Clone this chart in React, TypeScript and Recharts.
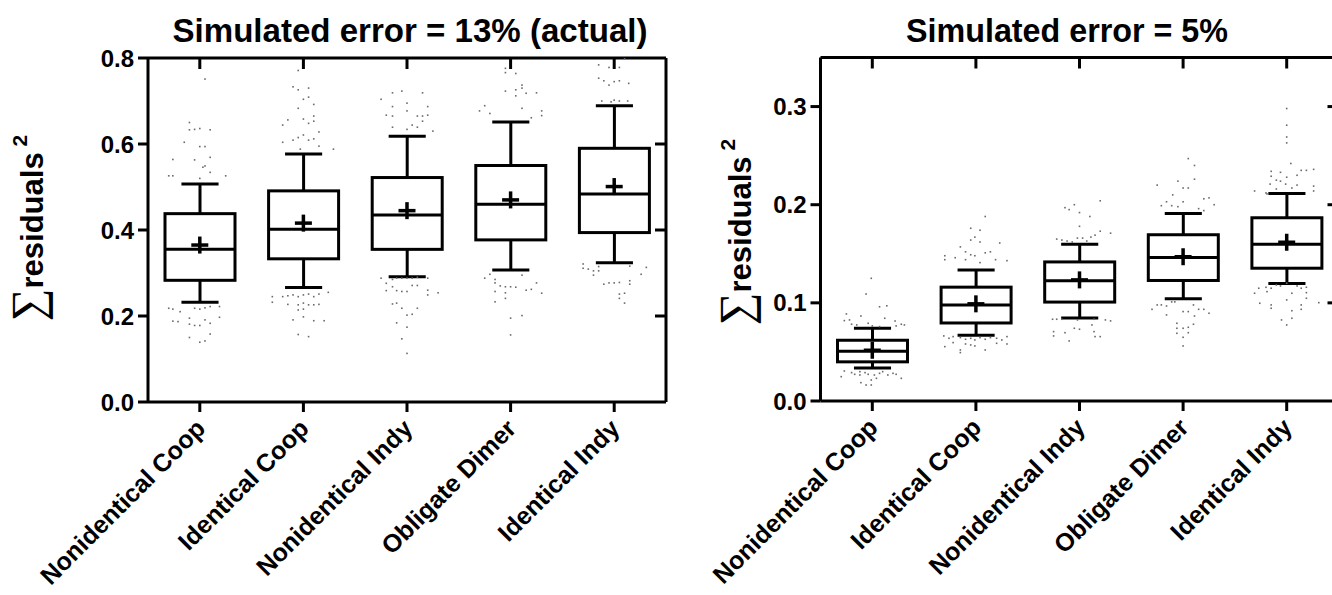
import React from "react";
import {
  ComposedChart,
  Bar,
  Scatter,
  XAxis,
  YAxis,
} from "recharts";

const FONT = '"Liberation Sans", Arial, Helvetica, sans-serif';

const categories = [
  "Nonidentical Coop",
  "Identical Coop",
  "Nonidentical Indy",
  "Obligate Dimer",
  "Identical Indy",
];

// ---------- Panel A: Simulated error = 13% (actual) ----------
const titleA = "Simulated error = 13%  (actual)";
const ticksA = [0, 0.2, 0.4, 0.6, 0.8];
const innerTicksA = [0.2, 0.4, 0.6];
const lowA = [0.232, 0.266, 0.291, 0.307, 0.324];
const q1A = [0.283, 0.333, 0.355, 0.377, 0.394];
const medA = [0.355, 0.402, 0.435, 0.46, 0.484];
const q3A = [0.438, 0.491, 0.522, 0.55, 0.59];
const highA = [0.507, 0.577, 0.618, 0.651, 0.689];
const meanA = [0.365, 0.416, 0.445, 0.47, 0.501];

// outlier dots: [horizontal jitter in category units, value]
const dotsA0: [number, number][] = [
  [0.05, 0.751], [-0.1, 0.65], [-0.1, 0.633], [-0.05, 0.634], [0, 0.636], [0.1, 0.633], [-0.15, 0.604], [0, 0.594],
  [0.05, 0.594], [0.1, 0.569], [-0.26, 0.564], [-0.05, 0.563], [0.05, 0.549], [0.03, 0.546], [0.1, 0.534], [-0.3, 0.526],
  [-0.26, 0.526], [0, 0.52], [0.25, 0.526],
  [-0.3, 0.218], [-0.26, 0.216], [-0.05, 0.218], [0, 0.216], [0.05, 0.219], [0.1, 0.222], [0.19, 0.222], [-0.19, 0.21],
  [-0.26, 0.188], [-0.21, 0.187], [-0.1, 0.195], [-0.1, 0.181], [-0.05, 0.178], [0, 0.178], [0.05, 0.191], [0.1, 0.183],
  [0.19, 0.197], [0.1, 0.158], [-0.1, 0.15], [0, 0.139], [0.05, 0.142],
];
const dotsA1: [number, number][] = [
  [-0.05, 0.771], [-0.1, 0.733], [-0.05, 0.726], [0.05, 0.73], [0, 0.704], [0.05, 0.709], [0.1, 0.692], [-0.05, 0.683],
  [0, 0.658], [0.1, 0.665], [-0.15, 0.656], [-0.2, 0.644], [0.05, 0.648], [0.1, 0.653], [0.15, 0.628], [0, 0.621],
  [-0.05, 0.615], [0.05, 0.609], [0.1, 0.612], [-0.2, 0.604], [-0.1, 0.609], [0.15, 0.595], [0.29, 0.588], [-0.03, 0.588],
  [-0.3, 0.245], [-0.2, 0.245], [-0.15, 0.247], [-0.1, 0.249], [-0.05, 0.245], [0, 0.249], [0.05, 0.251], [0.1, 0.245],
  [0.15, 0.251], [0.24, 0.255], [-0.3, 0.232], [-0.15, 0.227], [-0.05, 0.226], [0, 0.23], [0.05, 0.226], [0.1, 0.226],
  [0.15, 0.227], [-0.05, 0.214], [0, 0.216], [-0.1, 0.191], [0, 0.198], [0.1, 0.189], [0.2, 0.189], [-0.05, 0.157],
  [0.05, 0.152],
];
const dotsA2: [number, number][] = [
  [-0.14, 0.719], [-0.05, 0.723], [0.15, 0.719], [0, 0.695], [-0.14, 0.687], [-0.2, 0.667], [-0.14, 0.665], [0, 0.677],
  [0.1, 0.665], [0.15, 0.665], [0.2, 0.667], [0.2, 0.687], [0.15, 0.653], [-0.14, 0.639], [0, 0.634], [0.05, 0.644],
  [0.1, 0.639], [0.25, 0.63], [-0.25, 0.704],
  [-0.25, 0.288], [-0.14, 0.285], [-0.1, 0.288], [-0.05, 0.288], [0, 0.288], [0.05, 0.288], [0.1, 0.29], [0.2, 0.288],
  [-0.2, 0.276], [-0.14, 0.268], [-0.1, 0.259], [-0.05, 0.257], [0, 0.257], [0.05, 0.271], [0.1, 0.271], [0.2, 0.26],
  [0.3, 0.254], [0.2, 0.249], [-0.14, 0.228], [-0.1, 0.23], [-0.05, 0.218], [0.1, 0.218], [0, 0.202], [0.05, 0.204],
  [-0.1, 0.184], [0, 0.174], [-0.05, 0.147], [0, 0.113], [-0.2, 0.259],
];
const dotsA3: [number, number][] = [
  [-0.05, 0.776], [-0.05, 0.766], [0.05, 0.764], [0.11, 0.737], [0.05, 0.726], [0.11, 0.73], [0.15, 0.718], [0.25, 0.719],
  [-0.05, 0.723], [0.05, 0.712], [-0.25, 0.689], [-0.3, 0.677], [-0.2, 0.671], [0.11, 0.683], [0.3, 0.677], [0.3, 0.666],
  [0.2, 0.661],
  [-0.25, 0.288], [-0.2, 0.297], [-0.15, 0.285], [-0.15, 0.277], [-0.1, 0.27], [-0.05, 0.268], [0, 0.268], [0.05, 0.267],
  [0.11, 0.295], [0.15, 0.26], [0.2, 0.262], [0.25, 0.277], [0.3, 0.253], [-0.15, 0.257], [-0.05, 0.254], [-0.15, 0.233],
  [-0.05, 0.241], [0, 0.195], [0.11, 0.201], [0, 0.156],
];
const dotsA4: [number, number][] = [
  [-0.15, 0.784], [-0.05, 0.778], [0.05, 0.778], [0.1, 0.798], [-0.15, 0.753], [-0.1, 0.747], [-0.05, 0.737], [0, 0.745],
  [0.05, 0.747], [0.14, 0.741], [-0.12, 0.7], [0, 0.702], [0.05, 0.7], [0.13, 0.7], [-0.03, 0.698],
  [-0.3, 0.321], [-0.3, 0.311], [-0.25, 0.309], [-0.2, 0.305], [-0.15, 0.315], [-0.15, 0.305], [-0.2, 0.295], [0.15, 0.316],
  [0.31, 0.313], [0.26, 0.297], [-0.1, 0.274], [-0.05, 0.277], [0, 0.277], [0.05, 0.278], [0.15, 0.282], [0.15, 0.274],
  [0.05, 0.251], [0.1, 0.253], [0.05, 0.241], [0.1, 0.23],
];

// ---------- Panel B: Simulated error = 5% ----------
const titleB = "Simulated error = 5%";
const ticksB = [0, 0.1, 0.2, 0.3];
const innerTicksB = [0.1, 0.2, 0.3];
const lowB = [0.0335, 0.067, 0.0845, 0.1042, 0.1197];
const q1B = [0.0399, 0.0795, 0.1008, 0.1228, 0.1353];
const medB = [0.0507, 0.0977, 0.1224, 0.1461, 0.1596];
const q3B = [0.0619, 0.116, 0.1417, 0.1694, 0.1867];
const highB = [0.0741, 0.1336, 0.1596, 0.191, 0.2114];
const meanB = [0.0517, 0.099, 0.1234, 0.147, 0.1617];

const dotsB0: [number, number][] = [
  [-0.01, 0.125], [-0.06, 0.109], [0.07, 0.096], [0.14, 0.097], [-0.11, 0.0866], [-0.25, 0.0887], [-0.27, 0.0819],
  [-0.2, 0.0782], [-0.15, 0.0775], [-0.04, 0.0792], [0, 0.0765], [0.07, 0.0758], [0.12, 0.0843], [0.22, 0.0815],
  [0.23, 0.0765], [0.28, 0.0782], [0.31, 0.0775], [-0.22, 0.0826],
  [-0.3, 0.0248], [-0.27, 0.0306], [-0.2, 0.0289], [-0.17, 0.0272], [-0.12, 0.0299], [-0.12, 0.0265], [-0.07, 0.0289],
  [-0.04, 0.0272], [0.02, 0.0265], [0.07, 0.0282], [0.1, 0.0299], [0.15, 0.0265], [0.2, 0.0282], [0.23, 0.0272],
  [0.28, 0.0231], [0.04, 0.0231], [-0.01, 0.0214], [-0.06, 0.0163], [-0.01, 0.0163], [-0.11, 0.0187],
];
const dotsB1: [number, number][] = [
  [0.09, 0.188], [-0.05, 0.176], [0.04, 0.174], [-0.01, 0.167], [-0.05, 0.164], [0.04, 0.162], [-0.15, 0.157],
  [0.23, 0.161], [-0.1, 0.152], [-0.05, 0.149], [-0.01, 0.148], [0.09, 0.151], [0.14, 0.152], [-0.3, 0.148],
  [-0.2, 0.146], [-0.3, 0.144], [0.19, 0.144], [0.3, 0.143], [-0.1, 0.144], [0.04, 0.141],
  [-0.31, 0.0663], [-0.26, 0.0639], [-0.22, 0.0656], [-0.15, 0.0646], [-0.1, 0.0629], [-0.05, 0.0639], [-0.01, 0.0622],
  [0.04, 0.0646], [0.09, 0.0629], [0.14, 0.0646], [0.2, 0.0639], [0.25, 0.0622], [0.3, 0.0656], [-0.22, 0.0595],
  [-0.1, 0.0581], [-0.05, 0.0571], [-0.01, 0.0561], [0.09, 0.052], [-0.15, 0.052], [-0.15, 0.0493], [0.2, 0.0588],
  [0.3, 0.0581], [-0.3, 0.0554],
];
const dotsB2: [number, number][] = [
  [-0.14, 0.197], [-0.1, 0.195], [-0.05, 0.2], [0, 0.192], [0.1, 0.188], [0.2, 0.204], [0, 0.178], [-0.22, 0.165],
  [-0.17, 0.164], [-0.12, 0.163], [-0.07, 0.162], [-0.02, 0.166], [0.03, 0.166], [0.07, 0.163], [0.11, 0.167],
  [0.15, 0.169], [0.2, 0.173], [0.3, 0.171],
  [-0.26, 0.0833], [-0.22, 0.0833], [-0.17, 0.0833], [-0.02, 0.0826], [0.14, 0.0833], [0.25, 0.0826], [0.3, 0.0816],
  [-0.25, 0.0707], [-0.25, 0.0663], [-0.14, 0.0696], [-0.05, 0.0741], [0, 0.0731], [0.12, 0.0775], [0.14, 0.0707],
  [0.15, 0.0656], [0.2, 0.0656], [-0.1, 0.0612],
];
const dotsB3: [number, number][] = [
  [0.05, 0.247], [0.11, 0.24], [-0.25, 0.22], [-0.05, 0.224], [0.11, 0.226], [0, 0.217], [0.05, 0.217], [-0.1, 0.21],
  [-0.16, 0.203], [-0.21, 0.199], [-0.11, 0.199], [-0.05, 0.198], [0, 0.203], [0.15, 0.196], [0.2, 0.206], [0.25, 0.207],
  [0.3, 0.2], [0.2, 0.194],
  [-0.3, 0.0934], [-0.25, 0.0979], [-0.21, 0.0979], [-0.16, 0.0968], [-0.11, 0.101], [-0.08, 0.101], [0.1, 0.0979],
  [-0.16, 0.0877], [0, 0.0911], [0.05, 0.0911], [0.11, 0.0866], [0.15, 0.0934], [0.2, 0.0934], [0.25, 0.0894],
  [-0.06, 0.0792], [-0.06, 0.0741], [0, 0.0741], [0.05, 0.0751], [0.1, 0.0782], [-0.06, 0.069], [0, 0.0649],
  [0.05, 0.0696], [0, 0.0561],
];
const dotsB4: [number, number][] = [
  [0, 0.298], [0, 0.281], [0, 0.269], [0, 0.263], [0.04, 0.242], [-0.15, 0.234], [-0.06, 0.233], [0.14, 0.235],
  [0.19, 0.235], [0.26, 0.236], [-0.15, 0.229], [0, 0.228], [0.1, 0.23], [-0.1, 0.225], [-0.06, 0.224], [-0.01, 0.221],
  [-0.16, 0.221], [0.05, 0.217], [0.1, 0.22], [0.26, 0.219], [0.26, 0.214], [-0.31, 0.214], [-0.2, 0.212], [-0.1, 0.216],
  [-0.19, 0.211],
  [-0.27, 0.1149], [-0.2, 0.1159], [-0.15, 0.1149], [-0.1, 0.1182], [-0.06, 0.1172], [0, 0.12], [0.1, 0.1172],
  [0.14, 0.1149], [0.19, 0.1159], [-0.31, 0.1098], [-0.19, 0.1114], [0.05, 0.1098], [0.19, 0.1104], [-0.26, 0.0996],
  [-0.15, 0.0979], [-0.15, 0.0945], [0, 0.103], [0.14, 0.0979], [0.14, 0.0934], [0.05, 0.092], [0.05, 0.0843],
  [-0.05, 0.0826], [0, 0.0775], [0.31, 0.1002], [0.19, 0.1047],
];

const dotsA = [dotsA0, dotsA1, dotsA2, dotsA3, dotsA4];
const dotsB = [dotsB0, dotsB1, dotsB2, dotsB3, dotsB4];

type Stat = { name: string; low: number; q1: number; med: number; q3: number; high: number; mean: number };

function buildBoxes(low: number[], q1: number[], med: number[], q3: number[], high: number[], mean: number[]): Stat[] {
  return categories.map((name, i) => ({ name, low: low[i], q1: q1[i], med: med[i], q3: q3[i], high: high[i], mean: mean[i] }));
}

const BoxShape = (props: any) => {
  const { x, y, width, height, payload } = props;
  if (!payload) return null;
  const top = Math.min(y, y + height);
  const bot = Math.max(y, y + height);
  const span = payload.high - payload.low;
  const py = (v: number) => top + ((bot - top) * (payload.high - v)) / span;
  const cx = x + width / 2;
  const cap = width * 0.265;
  const yQ3 = py(payload.q3);
  const yQ1 = py(payload.q1);
  const yMed = py(payload.med);
  return (
    <g stroke="#000" strokeWidth={3} fill="none">
      <line x1={cx} x2={cx} y1={top} y2={yQ3} />
      <line x1={cx} x2={cx} y1={yQ1} y2={bot} />
      <line x1={cx - cap} x2={cx + cap} y1={top} y2={top} />
      <line x1={cx - cap} x2={cx + cap} y1={bot} y2={bot} />
      <rect x={x} y={yQ3} width={width} height={yQ1 - yQ3} />
      <line x1={x} x2={x + width} y1={yMed} y2={yMed} />
    </g>
  );
};

const DotShape = (props: any) => {
  const { cx, cy } = props;
  return <rect x={cx - 0.8} y={cy - 0.8} width={1.6} height={1.6} fill="#6a6a6a" />;
};

const CrossShape = (props: any) => {
  const { cx, cy } = props;
  const h = 8.5;
  return (
    <g stroke="#000" strokeWidth={3.5}>
      <line x1={cx - h} x2={cx + h} y1={cy} y2={cy} />
      <line x1={cx} x2={cx} y1={cy - h} y2={cy + h} />
    </g>
  );
};

const CatTick = (props: any) => {
  const { x, y, payload } = props;
  const ax = x + 7;
  const ay = y + 16;
  return (
    <text
      x={ax}
      y={ay}
      transform={`rotate(-45 ${ax} ${ay})`}
      textAnchor="end"
      fontSize={25}
      fontWeight={700}
      fontFamily={FONT}
      fill="#000"
    >
      {payload.value}
    </text>
  );
};

// top axis: draws only an inward tick mark at each category
const TopTick = (props: any) => {
  const { x, y } = props;
  return <line x1={x} x2={x} y1={y} y2={y + 11} stroke="#000" strokeWidth={3} />;
};

const NoTick = () => <g />;

type PanelProps = {
  left: number;
  width: number;
  height: number;
  margin: { top: number; right: number; bottom: number; left: number };
  xAxisHeight: number;
  domainMax: number;
  ticks: number[];
  innerTicks: number[];
  boxes: Stat[];
  dots: [number, number][][];
};

function Panel(p: PanelProps) {
  const dotData = p.dots.flatMap((g, i) => g.map(([o, v]) => ({ x: i + o, y: v })));
  const meanData = p.boxes.map((b) => ({ name: b.name, y: b.mean }));
  const axisStyle = { stroke: "#000", strokeWidth: 3 };
  return (
    <div style={{ position: "absolute", left: p.left, top: 0, width: p.width, height: p.height }}>
      <ComposedChart width={p.width} height={p.height} data={p.boxes} margin={p.margin}>
        <XAxis
          xAxisId="cat"
          dataKey="name"
          type="category"
          height={p.xAxisHeight}
          interval={0}
          axisLine={axisStyle}
          tickLine={axisStyle}
          tickSize={10}
          tick={<CatTick />}
        />
        <XAxis
          xAxisId="top"
          dataKey="name"
          type="category"
          orientation="top"
          height={1}
          interval={0}
          axisLine={axisStyle}
          tickLine={false}
          tickSize={0}
          tickMargin={0}
          tick={<TopTick />}
        />
        <XAxis xAxisId="num" dataKey="x" type="number" domain={[-0.5, 4.5]} allowDataOverflow hide />
        <YAxis
          yAxisId="v"
          type="number"
          domain={[0, p.domainMax]}
          ticks={p.ticks}
          allowDataOverflow
          width={60}
          axisLine={axisStyle}
          tickLine={axisStyle}
          tickSize={10}
          tickMargin={4}
          tickFormatter={(v: number) => v.toFixed(1)}
          tick={{ fontSize: 24, fontWeight: 700, fill: "#000", fontFamily: FONT }}
        />
        <YAxis
          yAxisId="inner"
          orientation="right"
          type="number"
          domain={[0, p.domainMax]}
          ticks={p.innerTicks}
          allowDataOverflow
          mirror
          width={1}
          axisLine={axisStyle}
          tickLine={axisStyle}
          tickSize={11}
          tick={<NoTick />}
        />
        <Scatter
          xAxisId="num"
          yAxisId="inner"
          data={dotData}
          dataKey="y"
          shape={<DotShape />}
          isAnimationActive={false}
        />
        <Bar
          xAxisId="top"
          yAxisId="v"
          dataKey={(d: Stat) => [d.low, d.high]}
          barSize={70}
          shape={<BoxShape />}
          isAnimationActive={false}
        />
        <Scatter
          xAxisId="cat"
          yAxisId="v"
          data={meanData}
          dataKey="y"
          shape={<CrossShape />}
          isAnimationActive={false}
        />
      </ComposedChart>
    </div>
  );
}

const YLabel = ({ x, y }: { x: number; y: number }) => (
  <text x={x} y={y} transform={`rotate(-90 ${x} ${y})`} textAnchor="middle" fill="#000">
    <tspan fontFamily='"Liberation Serif", "DejaVu Serif", serif' fontSize={46}>
      {"\u2211"}
    </tspan>
    <tspan fontFamily={FONT} fontWeight={700} fontSize={31}>
      residuals
    </tspan>
    <tspan fontFamily={FONT} fontWeight={700} fontSize={21} dx={6} dy={-16}>
      2
    </tspan>
  </text>
);

export default function App() {
  const boxesA = buildBoxes(lowA, q1A, medA, q3A, highA, meanA);
  const boxesB = buildBoxes(lowB, q1B, medB, q3B, highB, meanB);
  return (
    <div
      style={{
        position: "absolute",
        left: 0,
        top: 0,
        width: 1332,
        height: 595,
        overflow: "hidden",
        background: "#fff",
      }}
    >
      <Panel
        left={0}
        width={700}
        height={595}
        margin={{ top: 57, right: 34, bottom: 0, left: 88 }}
        xAxisHeight={193}
        domainMax={0.8}
        ticks={ticksA}
        innerTicks={innerTicksA}
        boxes={boxesA}
        dots={dotsA}
      />
      <Panel
        left={680}
        width={700}
        height={595}
        margin={{ top: 56.5, right: 41.5, bottom: 0, left: 80.5 }}
        xAxisHeight={194}
        domainMax={0.35}
        ticks={ticksB}
        innerTicks={innerTicksB}
        boxes={boxesB}
        dots={dotsB}
      />
      <svg
        width={1332}
        height={595}
        style={{ position: "absolute", left: 0, top: 0, pointerEvents: "none" }}
      >
        <text
          x={410}
          y={42}
          textAnchor="middle"
          fontFamily={FONT}
          fontWeight={700}
          fontSize={33}
          textLength={475}
          lengthAdjust="spacingAndGlyphs"
          fill="#000"
        >
          {titleA}
        </text>
        <text
          x={1067}
          y={42}
          textAnchor="middle"
          fontFamily={FONT}
          fontWeight={700}
          fontSize={33}
          textLength={322}
          lengthAdjust="spacingAndGlyphs"
          fill="#000"
        >
          {titleB}
        </text>
        <YLabel x={43} y={228} />
        <YLabel x={751} y={232} />
      </svg>
    </div>
  );
}
